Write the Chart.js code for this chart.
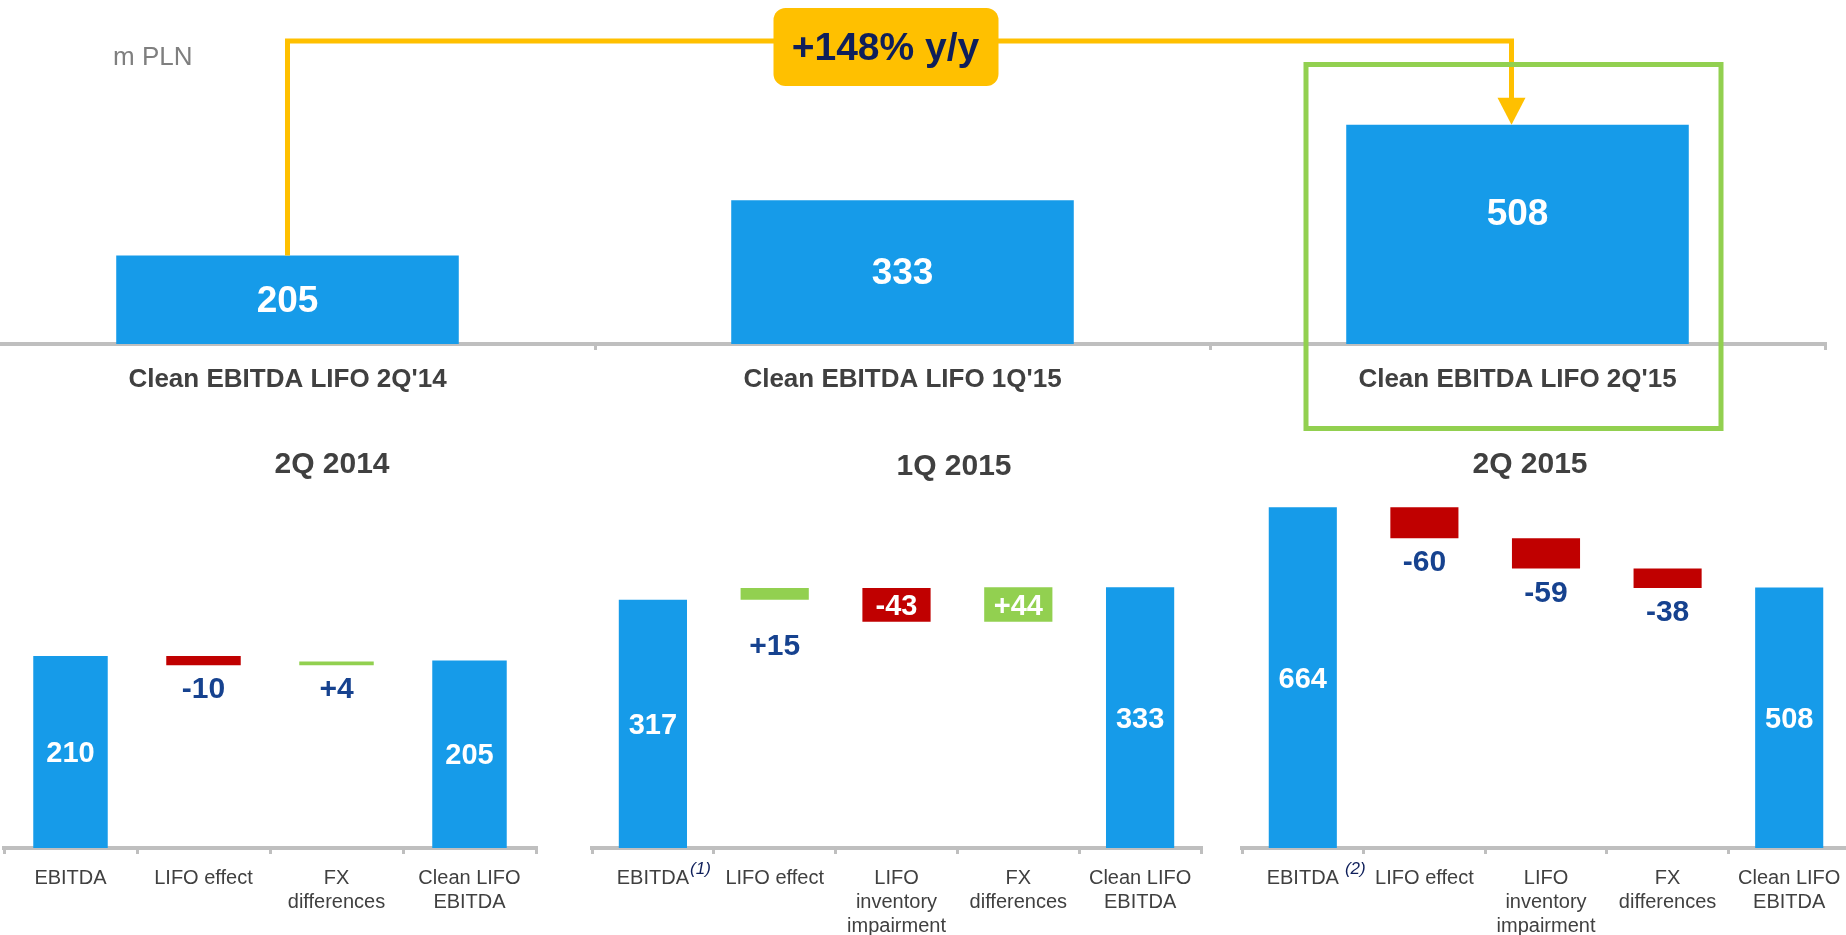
<!DOCTYPE html>
<html>
<head>
<meta charset="utf-8">
<script src="https://cdn.jsdelivr.net/npm/chart.js@4"></script>
<style>
  html, body { margin: 0; padding: 0; background: #fff; }
  body { width: 1846px; height: 935px; overflow: hidden; position: relative; }
  .box { position: absolute; }
</style>
</head>
<body>
<div class="box" style="left:-20px;top:0;width:1866px;height:440px"><canvas id="topChart"></canvas></div>
<div class="box" style="left:0;top:440px;width:540px;height:495px"><canvas id="q214"></canvas></div>
<div class="box" style="left:582px;top:440px;width:630px;height:495px"><canvas id="q115"></canvas></div>
<div class="box" style="left:1232px;top:440px;width:630px;height:495px"><canvas id="q215"></canvas></div>
<script>
// Values, m PLN
const topCategories = ["Clean EBITDA LIFO 2Q'14", "Clean EBITDA LIFO 1Q'15", "Clean EBITDA LIFO 2Q'15"];
const topValues = [205, 333, 508];
const unitText = 'm PLN';
const growthText = '+148% y/y';

const q214Title = '2Q 2014';
const q214Categories = [['EBITDA'], ['LIFO effect'], ['FX', 'differences'], ['Clean LIFO', 'EBITDA']];
const q214Values = [210, -10, 4, 205];
const q214Totals = [true, false, false, true];

const q115Title = '1Q 2015';
const q115Categories = [['EBITDA'], ['LIFO effect'], ['LIFO', 'inventory', 'impairment'], ['FX', 'differences'], ['Clean LIFO', 'EBITDA']];
const q115Values = [317, 15, -43, 44, 333];
const q115Totals = [true, false, false, false, true];
const q115Note = '(1)';

const q215Title = '2Q 2015';
const q215Categories = [['EBITDA'], ['LIFO effect'], ['LIFO', 'inventory', 'impairment'], ['FX', 'differences'], ['Clean LIFO', 'EBITDA']];
const q215Values = [664, -60, -59, -38, 508];
const q215Totals = [true, false, false, false, true];
const q215Note = '(2)';

const FONT = "'Liberation Sans', Arial, sans-serif";
const BLUE = '#169BE9';
const RED = '#C00000';
const GREEN = '#92D050';
const YELLOW = '#FFC000';
const NAVY = '#16428F';
const DARK_NAVY = '#0F1F5A';
const TEXT = '#404040';
const AXIS = '#BFBFBF';

Chart.defaults.font.family = FONT;

// turn deltas into floating [start, end] bars
function waterfall(values, totals) {
  let run = 0;
  return values.map((v, i) => {
    if (totals[i]) { run = v; return [0, v]; }
    const start = run;
    run += v;
    return [start, run];
  });
}

// value labels: white inside the bar, or navy under it
function barLabels(values, totals, inside, size, maxDrop, extraDrop) {
  return {
    id: 'barLabels',
    afterDatasetsDraw(chart) {
      const ctx = chart.ctx;
      ctx.save();
      ctx.textAlign = 'center';
      ctx.textBaseline = 'middle';
      chart.getDatasetMeta(0).data.forEach((bar, i) => {
        const { x, y, base } = bar.getProps(['x', 'y', 'base'], true);
        const top = Math.min(y, base), bottom = Math.max(y, base);
        const v = values[i];
        const text = totals[i] ? String(v) : (v > 0 ? '+' : '') + v;
        if (totals[i] || inside.includes(i)) {
          ctx.font = `bold ${size}px ${FONT}`;
          ctx.fillStyle = '#fff';
          ctx.fillText(text, x, Math.min((top + bottom) / 2 + 2, top + maxDrop));
        } else {
          ctx.font = `bold ${size + 1}px ${FONT}`;
          ctx.fillStyle = NAVY;
          ctx.fillText(text, x, bottom + 25 + ((extraDrop || {})[i] || 0));
        }
      });
      ctx.restore();
    }
  };
}

// connector arrow, growth badge, highlight frame and unit for the top chart
const topDecor = {
  id: 'topDecor',
  afterDraw(chart) {
    const ctx = chart.ctx;
    const bars = chart.getDatasetMeta(0).data;
    const b0 = bars[0], b2 = bars[2];
    const lineY = 41;
    ctx.save();
    ctx.fillStyle = '#7F7F7F';
    ctx.font = `26px ${FONT}`;
    ctx.textAlign = 'left';
    ctx.textBaseline = 'middle';
    ctx.fillText(unitText, 133, 58);

    ctx.strokeStyle = YELLOW;
    ctx.lineWidth = 5;
    ctx.beginPath();
    ctx.moveTo(b0.x, b0.y);
    ctx.lineTo(b0.x, lineY);
    ctx.lineTo(b2.x - 6, lineY);
    ctx.lineTo(b2.x - 6, b2.y - 26);
    ctx.stroke();
    ctx.fillStyle = YELLOW;
    ctx.beginPath();
    ctx.moveTo(b2.x - 20, b2.y - 27);
    ctx.lineTo(b2.x + 8, b2.y - 27);
    ctx.lineTo(b2.x - 6, b2.y);
    ctx.closePath();
    ctx.fill();

    ctx.strokeStyle = GREEN;
    ctx.lineWidth = 5;
    ctx.strokeRect(b2.x - 211.5, 64.5, 415, 364);

    const cx = (b0.x + b2.x) / 2 - 17;
    ctx.fillStyle = YELLOW;
    ctx.beginPath();
    ctx.roundRect(cx - 112, 8, 225, 78, 12);
    ctx.fill();
    ctx.fillStyle = DARK_NAVY;
    ctx.font = `bold 39px ${FONT}`;
    ctx.textAlign = 'center';
    ctx.fillText(growthText, cx, 49);
    ctx.restore();
  }
};

// panel heading and the footnote mark after "EBITDA"
function panelDecor(title, titleX, titleY, note, noteGap) {
  return {
    id: 'panelDecor',
    afterDraw(chart) {
      const ctx = chart.ctx;
      ctx.save();
      ctx.fillStyle = TEXT;
      ctx.font = `bold 30px ${FONT}`;
      ctx.textAlign = 'center';
      ctx.textBaseline = 'middle';
      ctx.fillText(title, titleX, titleY);
      if (note) {
        const x0 = chart.scales.x.getPixelForTick(0);
        ctx.font = `20px ${FONT}`;
        const w = ctx.measureText(chart.data.labels[0][0]).width;
        ctx.font = `italic 17px ${FONT}`;
        ctx.fillStyle = DARK_NAVY;
        ctx.textAlign = 'left';
        ctx.textBaseline = 'alphabetic';
        ctx.fillText(note, x0 + w / 2 + noteGap, 434);
      }
      ctx.restore();
    }
  };
}

function xAxis(fontSpec, padding, height) {
  return {
    grid: { display: true, drawOnChartArea: false, drawTicks: true, tickLength: 6, color: AXIS, lineWidth: 3 },
    border: { display: true, color: AXIS, width: 4 },
    ticks: { color: TEXT, font: fontSpec, padding: padding, autoSkip: false, maxRotation: 0 },
    afterFit(scale) { scale.height = height; }
  };
}

// top comparison chart
new Chart(document.getElementById('topChart'), {
  type: 'bar',
  data: {
    labels: topCategories,
    datasets: [{ data: topValues, backgroundColor: BLUE, barPercentage: 0.557, categoryPercentage: 1 }]
  },
  options: {
    responsive: true,
    maintainAspectRatio: false,
    animation: false,
    layout: { padding: { top: 0, left: 0, right: 21, bottom: 0 } },
    plugins: { legend: { display: false }, tooltip: { enabled: false } },
    scales: {
      x: xAxis({ size: 26, weight: 'bold', lineHeight: 1.2 }, 14, 96),
      y: { display: false, min: 0, max: 797 }
    }
  },
  plugins: [barLabels(topValues, [true, true, true], [], 37, 90), topDecor]
});

function waterfallChart(id, cats, values, totals, inside, extraDrop, max, padL, padR, title, titleX, titleY, note, noteGap) {
  new Chart(document.getElementById(id), {
    type: 'bar',
    data: {
      labels: cats,
      datasets: [{
        data: waterfall(values, totals),
        backgroundColor: values.map((v, i) => totals[i] ? BLUE : (v < 0 ? RED : GREEN)),
        barPercentage: 0.56,
        categoryPercentage: 1
      }]
    },
    options: {
      responsive: true,
      maintainAspectRatio: false,
      animation: false,
      layout: { padding: { top: 39, left: padL, right: padR, bottom: 0 } },
      plugins: { legend: { display: false }, tooltip: { enabled: false } },
      scales: {
        x: xAxis({ size: 20, lineHeight: 1.18 }, 13, 87),
        y: { display: false, min: 0, max: max }
      }
    },
    plugins: [barLabels(values, totals, inside, 29, Infinity, extraDrop), panelDecor(title, titleX, titleY, note, noteGap)]
  });
}

waterfallChart('q214', q214Categories, q214Values, q214Totals, [], {}, 403.6, 4, 4, q214Title, 332, 25, null, 0);
waterfallChart('q115', q115Categories, q115Values, q115Totals, [2, 3], { 1: 22 }, 471.3, 10, 11, q115Title, 372, 27, q115Note, 1);
waterfallChart('q215', q215Categories, q215Values, q215Totals, [], {}, 719.3, 10, 12, q215Title, 298, 25, q215Note, 6);
</script>
</body>
</html>
